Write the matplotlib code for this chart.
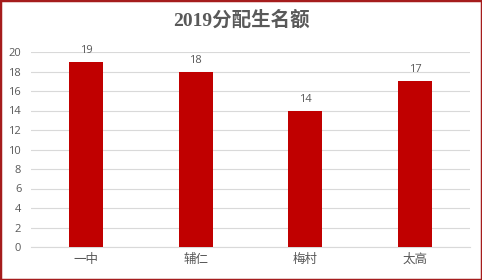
import matplotlib
matplotlib.use("Agg")
import matplotlib.pyplot as plt
from matplotlib.patches import Rectangle

plt.rcParams['font.family'] = ['Noto Sans CJK SC', 'DejaVu Sans']

categories = ['一中', '辅仁', '梅村', '太高']
values = [19, 18, 14, 17]
yticks = [0, 2, 4, 6, 8, 10, 12, 14, 16, 18, 20]
title = '2019分配生名额'

fig = plt.figure(figsize=(4.82, 2.80), dpi=100)
ax = fig.add_axes([31/482, 1-247/280, (470-31)/482, (247-52)/280])

bar_color = '#C00000'
text_color = '#595959'
num_family = ['Open Sans', 'Noto Sans CJK SC']
x = list(range(len(categories)))
bars = ax.bar(x, values, width=0.31, color=bar_color, zorder=3)
for xi, v in zip(x, values):
    ax.text(xi, v + 0.6, str(v), ha='center', va='bottom', fontsize=8,
            color=text_color, family=num_family)

ax.set_xlim(-0.5, len(categories) - 0.5)
ax.set_ylim(0, 20)
ax.set_yticks(yticks)
ax.set_yticklabels([str(t) for t in yticks], fontsize=8, color=text_color, family=num_family)
ax.set_xticks(x)
ax.set_xticklabels(categories, fontsize=9, color=text_color)
ax.tick_params(axis='y', length=0, pad=7)
ax.tick_params(axis='x', length=0, pad=4)
ax.yaxis.grid(True, color='#D9D9D9', linewidth=0.8, zorder=0)
for s in ['top', 'right', 'left']:
    ax.spines[s].set_visible(False)
ax.spines['bottom'].set_color('#D9D9D9')
ax.spines['bottom'].set_linewidth(0.8)

fig.text(0.5, 1 - 20/280, title, ha='center', va='center', fontsize=14,
         fontweight='bold', color=text_color, family=['Liberation Serif', 'Noto Sans CJK SC'])

fig.patches.append(Rectangle((0, 0), 1, 1, transform=fig.transFigure, fill=False,
                             edgecolor='#A51C1C', linewidth=2.5))

fig.savefig('out.png', dpi=100)
